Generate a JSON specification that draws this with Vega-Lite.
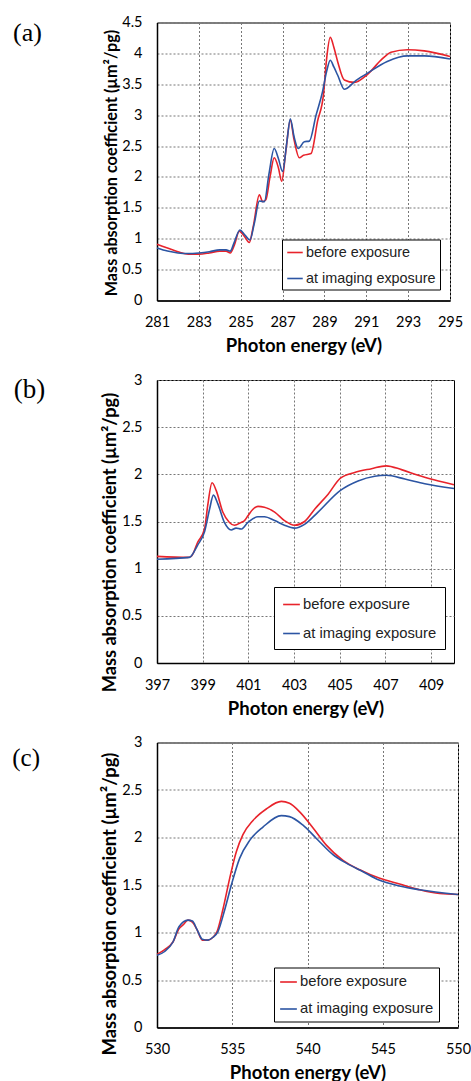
{
  "$schema": "https://vega.github.io/schema/vega-lite/v6.json",
  "padding": {"left": 11, "top": 13.5, "right": 0, "bottom": 0},
  "spacing": 79.5,
  "bounds": "flush",
  "datasets": {
    "a": [
      {"E": 281, "mu": 0.91, "s": "before exposure"},
      {"E": 281.5, "mu": 0.85, "s": "before exposure"},
      {"E": 282.0, "mu": 0.79, "s": "before exposure"},
      {"E": 282.5, "mu": 0.75, "s": "before exposure"},
      {"E": 283.0, "mu": 0.75, "s": "before exposure"},
      {"E": 283.5, "mu": 0.77, "s": "before exposure"},
      {"E": 284.0, "mu": 0.80, "s": "before exposure"},
      {"E": 284.3, "mu": 0.80, "s": "before exposure"},
      {"E": 284.5, "mu": 0.77, "s": "before exposure"},
      {"E": 284.7, "mu": 0.90, "s": "before exposure"},
      {"E": 284.93, "mu": 1.12, "s": "before exposure"},
      {"E": 285.15, "mu": 1.05, "s": "before exposure"},
      {"E": 285.41, "mu": 0.94, "s": "before exposure"},
      {"E": 285.6, "mu": 1.20, "s": "before exposure"},
      {"E": 285.89, "mu": 1.71, "s": "before exposure"},
      {"E": 286.05, "mu": 1.60, "s": "before exposure"},
      {"E": 286.2, "mu": 1.63, "s": "before exposure"},
      {"E": 286.4, "mu": 2.00, "s": "before exposure"},
      {"E": 286.6, "mu": 2.31, "s": "before exposure"},
      {"E": 286.8, "mu": 2.15, "s": "before exposure"},
      {"E": 286.96, "mu": 1.93, "s": "before exposure"},
      {"E": 287.15, "mu": 2.40, "s": "before exposure"},
      {"E": 287.37, "mu": 2.92, "s": "before exposure"},
      {"E": 287.55, "mu": 2.60, "s": "before exposure"},
      {"E": 287.8, "mu": 2.31, "s": "before exposure"},
      {"E": 288.0, "mu": 2.35, "s": "before exposure"},
      {"E": 288.36, "mu": 2.38, "s": "before exposure"},
      {"E": 288.67, "mu": 2.90, "s": "before exposure"},
      {"E": 288.96, "mu": 3.35, "s": "before exposure"},
      {"E": 289.1, "mu": 3.90, "s": "before exposure"},
      {"E": 289.28, "mu": 4.26, "s": "before exposure"},
      {"E": 289.45, "mu": 4.10, "s": "before exposure"},
      {"E": 289.63, "mu": 3.87, "s": "before exposure"},
      {"E": 289.95, "mu": 3.57, "s": "before exposure"},
      {"E": 290.43, "mu": 3.53, "s": "before exposure"},
      {"E": 291.06, "mu": 3.66, "s": "before exposure"},
      {"E": 291.7, "mu": 3.89, "s": "before exposure"},
      {"E": 292.18, "mu": 4.02, "s": "before exposure"},
      {"E": 292.97, "mu": 4.06, "s": "before exposure"},
      {"E": 293.77, "mu": 4.04, "s": "before exposure"},
      {"E": 295, "mu": 3.95, "s": "before exposure"},
      {"E": 281, "mu": 0.85, "s": "at imaging exposure"},
      {"E": 281.5, "mu": 0.80, "s": "at imaging exposure"},
      {"E": 282.0, "mu": 0.77, "s": "at imaging exposure"},
      {"E": 282.5, "mu": 0.76, "s": "at imaging exposure"},
      {"E": 283.0, "mu": 0.77, "s": "at imaging exposure"},
      {"E": 283.5, "mu": 0.79, "s": "at imaging exposure"},
      {"E": 284.0, "mu": 0.82, "s": "at imaging exposure"},
      {"E": 284.3, "mu": 0.82, "s": "at imaging exposure"},
      {"E": 284.5, "mu": 0.80, "s": "at imaging exposure"},
      {"E": 284.7, "mu": 0.95, "s": "at imaging exposure"},
      {"E": 284.96, "mu": 1.14, "s": "at imaging exposure"},
      {"E": 285.2, "mu": 1.06, "s": "at imaging exposure"},
      {"E": 285.44, "mu": 0.98, "s": "at imaging exposure"},
      {"E": 285.65, "mu": 1.25, "s": "at imaging exposure"},
      {"E": 285.89, "mu": 1.61, "s": "at imaging exposure"},
      {"E": 286.13, "mu": 1.60, "s": "at imaging exposure"},
      {"E": 286.35, "mu": 2.05, "s": "at imaging exposure"},
      {"E": 286.6, "mu": 2.46, "s": "at imaging exposure"},
      {"E": 286.8, "mu": 2.30, "s": "at imaging exposure"},
      {"E": 287.0, "mu": 2.09, "s": "at imaging exposure"},
      {"E": 287.2, "mu": 2.55, "s": "at imaging exposure"},
      {"E": 287.37, "mu": 2.94, "s": "at imaging exposure"},
      {"E": 287.55, "mu": 2.65, "s": "at imaging exposure"},
      {"E": 287.75, "mu": 2.46, "s": "at imaging exposure"},
      {"E": 288.04, "mu": 2.57, "s": "at imaging exposure"},
      {"E": 288.28, "mu": 2.58, "s": "at imaging exposure"},
      {"E": 288.6, "mu": 3.00, "s": "at imaging exposure"},
      {"E": 288.91, "mu": 3.38, "s": "at imaging exposure"},
      {"E": 289.1, "mu": 3.70, "s": "at imaging exposure"},
      {"E": 289.28, "mu": 3.89, "s": "at imaging exposure"},
      {"E": 289.45, "mu": 3.78, "s": "at imaging exposure"},
      {"E": 289.63, "mu": 3.65, "s": "at imaging exposure"},
      {"E": 289.95, "mu": 3.42, "s": "at imaging exposure"},
      {"E": 290.1, "mu": 3.44, "s": "at imaging exposure"},
      {"E": 290.43, "mu": 3.54, "s": "at imaging exposure"},
      {"E": 291.06, "mu": 3.68, "s": "at imaging exposure"},
      {"E": 292.0, "mu": 3.87, "s": "at imaging exposure"},
      {"E": 292.97, "mu": 3.96, "s": "at imaging exposure"},
      {"E": 293.77, "mu": 3.96, "s": "at imaging exposure"},
      {"E": 295, "mu": 3.91, "s": "at imaging exposure"}
    ],
    "b": [
      {"E": 397, "mu": 1.13, "s": "before exposure"},
      {"E": 398.35, "mu": 1.12, "s": "before exposure"},
      {"E": 398.5, "mu": 1.13, "s": "before exposure"},
      {"E": 398.78, "mu": 1.28, "s": "before exposure"},
      {"E": 399.08, "mu": 1.42, "s": "before exposure"},
      {"E": 399.22, "mu": 1.67, "s": "before exposure"},
      {"E": 399.41, "mu": 1.91, "s": "before exposure"},
      {"E": 399.59, "mu": 1.83, "s": "before exposure"},
      {"E": 399.88, "mu": 1.60, "s": "before exposure"},
      {"E": 400.17, "mu": 1.49, "s": "before exposure"},
      {"E": 400.39, "mu": 1.46, "s": "before exposure"},
      {"E": 400.68, "mu": 1.49, "s": "before exposure"},
      {"E": 400.83, "mu": 1.51, "s": "before exposure"},
      {"E": 400.98, "mu": 1.56, "s": "before exposure"},
      {"E": 401.2, "mu": 1.63, "s": "before exposure"},
      {"E": 401.42, "mu": 1.66, "s": "before exposure"},
      {"E": 401.7, "mu": 1.65, "s": "before exposure"},
      {"E": 402.15, "mu": 1.60, "s": "before exposure"},
      {"E": 402.58, "mu": 1.51, "s": "before exposure"},
      {"E": 403.02, "mu": 1.46, "s": "before exposure"},
      {"E": 403.46, "mu": 1.50, "s": "before exposure"},
      {"E": 403.9, "mu": 1.63, "s": "before exposure"},
      {"E": 404.49, "mu": 1.79, "s": "before exposure"},
      {"E": 405.03, "mu": 1.96, "s": "before exposure"},
      {"E": 405.65, "mu": 2.02, "s": "before exposure"},
      {"E": 406.39, "mu": 2.06, "s": "before exposure"},
      {"E": 407.03, "mu": 2.09, "s": "before exposure"},
      {"E": 407.7, "mu": 2.05, "s": "before exposure"},
      {"E": 408.43, "mu": 1.99, "s": "before exposure"},
      {"E": 409.16, "mu": 1.94, "s": "before exposure"},
      {"E": 410, "mu": 1.89, "s": "before exposure"},
      {"E": 397, "mu": 1.10, "s": "at imaging exposure"},
      {"E": 398.42, "mu": 1.12, "s": "at imaging exposure"},
      {"E": 398.78, "mu": 1.25, "s": "at imaging exposure"},
      {"E": 399.08, "mu": 1.39, "s": "at imaging exposure"},
      {"E": 399.3, "mu": 1.63, "s": "at imaging exposure"},
      {"E": 399.47, "mu": 1.78, "s": "at imaging exposure"},
      {"E": 399.66, "mu": 1.69, "s": "at imaging exposure"},
      {"E": 399.95, "mu": 1.49, "s": "at imaging exposure"},
      {"E": 400.25, "mu": 1.41, "s": "at imaging exposure"},
      {"E": 400.46, "mu": 1.43, "s": "at imaging exposure"},
      {"E": 400.68, "mu": 1.42, "s": "at imaging exposure"},
      {"E": 400.98, "mu": 1.49, "s": "at imaging exposure"},
      {"E": 401.42, "mu": 1.55, "s": "at imaging exposure"},
      {"E": 401.7, "mu": 1.55, "s": "at imaging exposure"},
      {"E": 402.15, "mu": 1.51, "s": "at imaging exposure"},
      {"E": 402.58, "mu": 1.46, "s": "at imaging exposure"},
      {"E": 403.02, "mu": 1.43, "s": "at imaging exposure"},
      {"E": 403.46, "mu": 1.47, "s": "at imaging exposure"},
      {"E": 404.05, "mu": 1.60, "s": "at imaging exposure"},
      {"E": 405.03, "mu": 1.83, "s": "at imaging exposure"},
      {"E": 405.8, "mu": 1.93, "s": "at imaging exposure"},
      {"E": 406.53, "mu": 1.98, "s": "at imaging exposure"},
      {"E": 407.03, "mu": 1.99, "s": "at imaging exposure"},
      {"E": 407.85, "mu": 1.95, "s": "at imaging exposure"},
      {"E": 408.72, "mu": 1.90, "s": "at imaging exposure"},
      {"E": 410, "mu": 1.85, "s": "at imaging exposure"}
    ],
    "c": [
      {"E": 530, "mu": 0.77, "s": "before exposure"},
      {"E": 530.51, "mu": 0.82, "s": "before exposure"},
      {"E": 531.06, "mu": 0.90, "s": "before exposure"},
      {"E": 531.46, "mu": 1.04, "s": "before exposure"},
      {"E": 531.73, "mu": 1.08, "s": "before exposure"},
      {"E": 532.06, "mu": 1.13, "s": "before exposure"},
      {"E": 532.35, "mu": 1.11, "s": "before exposure"},
      {"E": 532.66, "mu": 1.03, "s": "before exposure"},
      {"E": 533.01, "mu": 0.92, "s": "before exposure"},
      {"E": 533.39, "mu": 0.92, "s": "before exposure"},
      {"E": 533.72, "mu": 0.95, "s": "before exposure"},
      {"E": 533.99, "mu": 1.01, "s": "before exposure"},
      {"E": 534.39, "mu": 1.25, "s": "before exposure"},
      {"E": 534.83, "mu": 1.57, "s": "before exposure"},
      {"E": 535.27, "mu": 1.85, "s": "before exposure"},
      {"E": 535.71, "mu": 2.03, "s": "before exposure"},
      {"E": 536.38, "mu": 2.18, "s": "before exposure"},
      {"E": 537.26, "mu": 2.30, "s": "before exposure"},
      {"E": 538.26, "mu": 2.38, "s": "before exposure"},
      {"E": 538.8, "mu": 2.36, "s": "before exposure"},
      {"E": 539.48, "mu": 2.27, "s": "before exposure"},
      {"E": 540.37, "mu": 2.10, "s": "before exposure"},
      {"E": 541.25, "mu": 1.92, "s": "before exposure"},
      {"E": 542.36, "mu": 1.76, "s": "before exposure"},
      {"E": 543.47, "mu": 1.66, "s": "before exposure"},
      {"E": 544.8, "mu": 1.57, "s": "before exposure"},
      {"E": 546.12, "mu": 1.51, "s": "before exposure"},
      {"E": 547.45, "mu": 1.45, "s": "before exposure"},
      {"E": 548.78, "mu": 1.41, "s": "before exposure"},
      {"E": 550, "mu": 1.40, "s": "before exposure"},
      {"E": 530, "mu": 0.76, "s": "at imaging exposure"},
      {"E": 530.51, "mu": 0.80, "s": "at imaging exposure"},
      {"E": 531.06, "mu": 0.90, "s": "at imaging exposure"},
      {"E": 531.46, "mu": 1.06, "s": "at imaging exposure"},
      {"E": 532.06, "mu": 1.13, "s": "at imaging exposure"},
      {"E": 532.35, "mu": 1.12, "s": "at imaging exposure"},
      {"E": 532.66, "mu": 1.03, "s": "at imaging exposure"},
      {"E": 533.01, "mu": 0.93, "s": "at imaging exposure"},
      {"E": 533.39, "mu": 0.92, "s": "at imaging exposure"},
      {"E": 533.72, "mu": 0.95, "s": "at imaging exposure"},
      {"E": 534.05, "mu": 1.01, "s": "at imaging exposure"},
      {"E": 534.5, "mu": 1.24, "s": "at imaging exposure"},
      {"E": 534.94, "mu": 1.50, "s": "at imaging exposure"},
      {"E": 535.49, "mu": 1.78, "s": "at imaging exposure"},
      {"E": 536.16, "mu": 1.97, "s": "at imaging exposure"},
      {"E": 537.04, "mu": 2.11, "s": "at imaging exposure"},
      {"E": 538.26, "mu": 2.23, "s": "at imaging exposure"},
      {"E": 538.8, "mu": 2.22, "s": "at imaging exposure"},
      {"E": 539.7, "mu": 2.13, "s": "at imaging exposure"},
      {"E": 540.59, "mu": 1.99, "s": "at imaging exposure"},
      {"E": 541.69, "mu": 1.82, "s": "at imaging exposure"},
      {"E": 542.58, "mu": 1.73, "s": "at imaging exposure"},
      {"E": 543.69, "mu": 1.64, "s": "at imaging exposure"},
      {"E": 544.8, "mu": 1.55, "s": "at imaging exposure"},
      {"E": 546.12, "mu": 1.49, "s": "at imaging exposure"},
      {"E": 547.45, "mu": 1.45, "s": "at imaging exposure"},
      {"E": 550, "mu": 1.40, "s": "at imaging exposure"}
    ]
  },
  "config": {
    "font": "Lato",
    "view": {"stroke": "#000", "strokeWidth": 1},
    "axis": {
      "labelFont": "Lato", "labelFontSize": 14.5, "labelColor": "#000", "labelFlush": false,
      "titleFont": "Lato", "titleFontWeight": "bold", "titleFontSize": 18.5, "titleColor": "#000",
      "ticks": false, "tickSize": 0,
      "domainColor": "#000", "domainWidth": 1.5,
      "gridColor": "#777", "gridDash": [2, 2], "gridWidth": 1,
      "labelPadding": 15
    },
    "axisX": {"titlePadding": 7.5, "format": "d"},
    "axisY": {"titlePadding": 2, "format": "~g"},
    "legend": {
      "strokeColor": "#000", "fillColor": "#fff", "padding": 4,
      "symbolType": "stroke", "symbolSize": 240, "symbolStrokeWidth": 2,
      "labelFont": "Liberation Sans", "labelFontSize": 14.4, "labelColor": "#222",
      "labelOffset": 2, "rowPadding": 10, "cornerRadius": 0
    },
    "title": {"font": "Liberation Serif", "fontWeight": "normal", "color": "#000"},
    "line": {"strokeWidth": 1.6, "interpolate": "monotone"}
  },
  "resolve": {
    "scale": {"color": "independent", "x": "independent", "y": "independent"},
    "legend": {"color": "independent"}
  },
  "vconcat": [
    {
      "width": 293, "height": 278,
      "title": {"text": "(a)", "orient": "left", "anchor": "end", "angle": 0, "align": "right", "baseline": "top", "offset": 33, "frame": "group", "fontSize": 26, "dy": -3},
      "data": {"name": "a"},
      "mark": {"type": "line"},
      "encoding": {
        "x": {"field": "E", "type": "quantitative", "scale": {"domain": [281, 295], "nice": false, "zero": false},
              "axis": {"values": [281, 283, 285, 287, 289, 291, 293, 295], "title": "Photon energy (eV)"}},
        "y": {"field": "mu", "type": "quantitative", "scale": {"domain": [0, 4.5], "nice": false},
              "axis": {"values": [0, 0.5, 1, 1.5, 2, 2.5, 3, 3.5, 4, 4.5], "title": "Mass absorption coefficient (µm²/pg)", "titleY": 140, "titleFontSize": 16.2}},
        "color": {"field": "s", "type": "nominal", "title": null,
                  "scale": {"domain": ["before exposure", "at imaging exposure"], "range": ["#e8232b", "#2c55a3"]},
                  "legend": {"orient": "none", "legendX": 125, "legendY": 217, "title": null}}
      }
    },
    {
      "width": 297, "height": 283,
      "title": {"text": "(b)", "orient": "left", "anchor": "end", "angle": 0, "align": "right", "baseline": "top", "offset": 24, "frame": "group", "fontSize": 27, "dy": -3},
      "data": {"name": "b"},
      "mark": {"type": "line"},
      "encoding": {
        "x": {"field": "E", "type": "quantitative", "scale": {"domain": [397, 410], "nice": false, "zero": false},
              "axis": {"values": [397, 399, 401, 403, 405, 407, 409], "title": "Photon energy (eV)"}},
        "y": {"field": "mu", "type": "quantitative", "scale": {"domain": [0, 3], "nice": false},
              "axis": {"values": [0, 0.5, 1, 1.5, 2, 2.5, 3], "title": "Mass absorption coefficient (µm²/pg)", "titleY": 162, "titleFontSize": 18.2}},
        "color": {"field": "s", "type": "nominal", "title": null,
                  "scale": {"domain": ["before exposure", "at imaging exposure"], "range": ["#e8232b", "#2c55a3"]},
                  "legend": {"orient": "none", "legendX": 117, "legendY": 207, "title": null, "padding": 8, "rowPadding": 12, "symbolSize": 280, "labelFontSize": 14.8}}
      }
    },
    {
      "width": 301, "height": 285,
      "title": {"text": "(c)", "orient": "left", "anchor": "end", "angle": 0, "align": "right", "baseline": "top", "offset": 33, "frame": "group", "fontSize": 25, "dy": 3},
      "data": {"name": "c"},
      "mark": {"type": "line"},
      "encoding": {
        "x": {"field": "E", "type": "quantitative", "scale": {"domain": [530, 550], "nice": false, "zero": false},
              "axis": {"values": [530, 535, 540, 545, 550], "title": "Photon energy (eV)"}},
        "y": {"field": "mu", "type": "quantitative", "scale": {"domain": [0, 3], "nice": false},
              "axis": {"values": [0, 0.5, 1, 1.5, 2, 2.5, 3], "title": "Mass absorption coefficient (µm²/pg)", "titleY": 161, "titleFontSize": 18.4}},
        "color": {"field": "s", "type": "nominal", "title": null,
                  "scale": {"domain": ["before exposure", "at imaging exposure"], "range": ["#e8232b", "#2c55a3"]},
                  "legend": {"orient": "none", "legendX": 117, "legendY": 225, "title": null, "padding": 5, "rowPadding": 10, "symbolSize": 280, "labelFontSize": 14.8}}
      }
    }
  ]
}
